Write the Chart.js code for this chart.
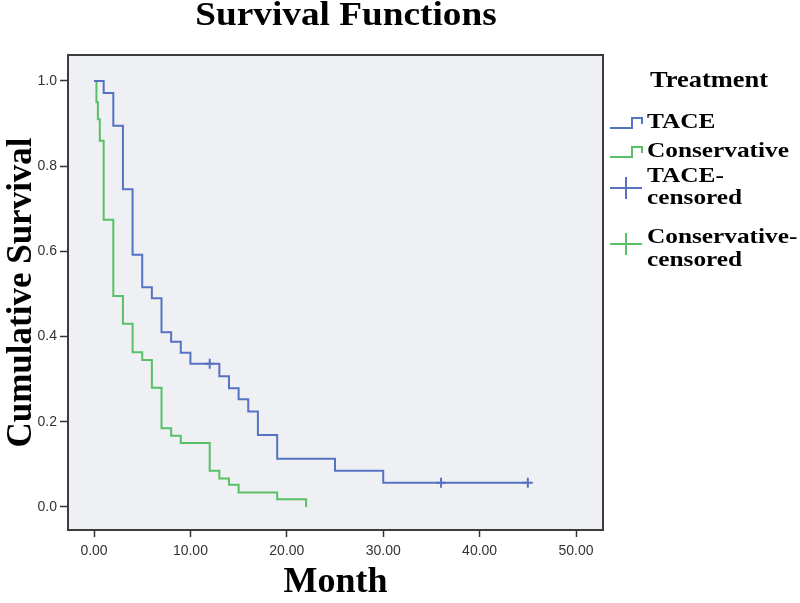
<!DOCTYPE html>
<html>
<head>
<meta charset="utf-8">
<script src="https://cdn.jsdelivr.net/npm/chart.js@4.4.1/dist/chart.umd.min.js"></script>
<style>
  html, body { margin:0; padding:0; background:#fff; }
  #wrap { position:relative; width:800px; height:603px; }
</style>
</head>
<body>
<div id="wrap"><canvas id="km" width="800" height="603"></canvas></div>
<script>
// ── DATA ────────────────────────────────────────────────
const TACE_MONTHS = [0, 1, 2, 3, 4, 5, 6, 7, 8, 9, 10, 13, 14, 15, 16, 17, 19, 25, 30, 45];
const TACE_SURV   = [1.0, 0.972, 0.895, 0.746, 0.592, 0.516, 0.49, 0.41, 0.388, 0.362, 0.336,
                     0.307, 0.279, 0.253, 0.224, 0.169, 0.113, 0.085, 0.057, 0.057];
const TACE_CENSOR_MONTHS = [12, 36, 45];
const TACE_CENSOR_SURV   = [0.336, 0.057, 0.057];

const CONS_MONTHS = [0, 0.25, 0.4, 0.6, 1, 2, 3, 4, 5, 6, 7, 8, 9, 12, 13, 14, 15, 19, 22];
const CONS_SURV   = [1.0, 0.95, 0.91, 0.86, 0.674, 0.495, 0.43, 0.363, 0.345, 0.28, 0.185,
                     0.167, 0.15, 0.085, 0.067, 0.052, 0.034, 0.018, 0.0];

const X_TICKS = [0, 10, 20, 30, 40, 50];
const Y_TICKS = [0, 0.2, 0.4, 0.6, 0.8, 1.0];

const TITLE = 'Survival Functions';
const X_TITLE = 'Month';
const Y_TITLE = 'Cumulative Survival';
const LEGEND_TITLE = 'Treatment';

// ── STYLE ───────────────────────────────────────────────
const BLUE  = '#5573c2';
const GREEN = '#58c066';
const PLOT_BG = '#eff0f3';
const SERIF = '"Liberation Serif", "Times New Roman", serif';
const SANS  = '"Liberation Sans", Arial, sans-serif';

const LEGEND_ITEMS = [
  { lines:['TACE'],                      color:BLUE,  icon:'step',  y:[122],      iconY:124 },
  { lines:['Conservative'],              color:GREEN, icon:'step',  y:[151],      iconY:153 },
  { lines:['TACE-', 'censored'],         color:BLUE,  icon:'cross', y:[176, 198], iconY:188 },
  { lines:['Conservative-', 'censored'], color:GREEN, icon:'cross', y:[237, 260], iconY:244 },
];

const pts = (xs, ys) => xs.map((x, i) => ({ x, y: ys[i] }));

// ── PLUGIN: plot background, frame, title, legend ───────
const decor = {
  id: 'decor',
  beforeDatasetsDraw(chart) {
    const { ctx, chartArea: a } = chart;
    ctx.save();
    ctx.fillStyle = PLOT_BG;
    ctx.fillRect(a.left, a.top, a.right - a.left, a.bottom - a.top);
    ctx.restore();
  },
  afterDraw(chart) {
    const { ctx, chartArea: a } = chart;
    ctx.save();
    ctx.strokeStyle = '#3c3c3c';
    ctx.lineWidth = 2;
    ctx.strokeRect(a.left, a.top, a.right - a.left, a.bottom - a.top);

    // title
    ctx.fillStyle = '#000';
    ctx.textAlign = 'center';
    ctx.textBaseline = 'alphabetic';
    ctx.font = `bold 33px ${SERIF}`;
    ctx.save();
    ctx.translate(346, 25);
    ctx.scale(1.13, 1);
    ctx.fillText(TITLE, 0, 0);
    ctx.restore();

    // legend
    ctx.textAlign = 'left';
    ctx.textBaseline = 'middle';
    ctx.save();
    ctx.translate(650, 81);
    ctx.scale(1.15, 1);
    ctx.font = `bold 23px ${SERIF}`;
    ctx.fillText(LEGEND_TITLE, 0, 0);
    ctx.restore();

    LEGEND_ITEMS.forEach(it => {
      ctx.strokeStyle = it.color;
      ctx.lineWidth = 2;
      ctx.beginPath();
      const y = it.iconY;
      if (it.icon === 'step') {
        ctx.moveTo(610, y + 4);
        ctx.lineTo(632, y + 4);
        ctx.lineTo(632, y - 6);
        ctx.lineTo(642, y - 6);
        ctx.lineTo(642, y);
      } else {
        ctx.moveTo(610, y);
        ctx.lineTo(642, y);
        ctx.moveTo(626, y - 11);
        ctx.lineTo(626, y + 11);
      }
      ctx.stroke();
      it.lines.forEach((txt, i) => {
        ctx.save();
        ctx.translate(647, it.y[i]);
        ctx.scale(1.15, 1);
        ctx.font = `bold 22px ${SERIF}`;
        ctx.fillText(txt, 0, 0);
        ctx.restore();
      });
    });
    ctx.restore();
  }
};

// ── CHART ───────────────────────────────────────────────
const ctx = document.getElementById('km').getContext('2d');
new Chart(ctx, {
  type: 'line',
  data: {
    datasets: [
      { label:'TACE', data: pts(TACE_MONTHS, TACE_SURV), stepped:'before',
        borderColor: BLUE, borderWidth: 2, pointRadius: 0, fill: false },
      { label:'Conservative', data: pts(CONS_MONTHS, CONS_SURV), stepped:'before',
        borderColor: GREEN, borderWidth: 2, pointRadius: 0, fill: false },
      { label:'TACE-censored', data: pts(TACE_CENSOR_MONTHS, TACE_CENSOR_SURV), showLine: false,
        pointStyle: 'cross', pointRadius: 5, borderColor: BLUE, borderWidth: 2 },
    ]
  },
  options: {
    responsive: false,
    animation: false,
    devicePixelRatio: 1,
    layout: { padding: { top: 55, right: 197, left: 0, bottom: 0 } },
    plugins: { legend: { display: false }, tooltip: { enabled: false } },
    scales: {
      x: {
        type: 'linear', min: -2.7, max: 52.8,
        afterBuildTicks: s => { s.ticks = X_TICKS.map(v => ({ value: v })); },
        afterFit: s => { s.height = 73; },
        border: { display: false },
        grid: { drawOnChartArea: false, tickLength: 7, tickColor: '#333', tickWidth: 1.5 },
        ticks: { callback: v => v.toFixed(2), font: { family: SANS, size: 14 }, color: '#333',
                 padding: 6, maxRotation: 0 },
        title: { display: true, text: X_TITLE, color: '#000',
                 font: { family: SERIF, size: 36, weight: 'bold', lineHeight: 1 },
                 padding: { top: 0, bottom: 2 } }
      },
      y: {
        type: 'linear', min: -0.054, max: 1.061,
        afterBuildTicks: s => { s.ticks = Y_TICKS.map(v => ({ value: v })); },
        afterFit: s => { s.width = 68; },
        border: { display: false },
        grid: { drawOnChartArea: false, tickLength: 8, tickColor: '#333', tickWidth: 1.5 },
        ticks: { callback: v => v.toFixed(1), font: { family: SANS, size: 14 }, color: '#333', padding: 3 },
        title: { display: true, text: Y_TITLE, color: '#000',
                 font: { family: SERIF, size: 35, weight: 'bold', lineHeight: 1 },
                 padding: { top: 4, bottom: 0 } }
      }
    }
  },
  plugins: [decor]
});
</script>
</body>
</html>
